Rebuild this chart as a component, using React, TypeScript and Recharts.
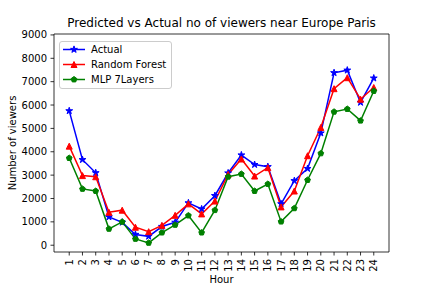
import React from 'react';
import { LineChart, Line, XAxis, YAxis, ReferenceLine } from 'recharts';

const hours = [1, 2, 3, 4, 5, 6, 7, 8, 9, 10, 11, 12, 13, 14, 15, 16, 17, 18, 19, 20, 21, 22, 23, 24];
const actual = [5750, 3660, 3100, 1210, 980, 460, 380, 800, 980, 1810, 1550, 2120, 3090, 3860, 3450, 3360, 1770, 2760, 3280, 4800, 7380, 7490, 6110, 7150];
const randomForest = [4240, 2980, 2930, 1410, 1500, 770, 580, 850, 1280, 1770, 1340, 1890, 3030, 3690, 2960, 3320, 1640, 2320, 3830, 5040, 6700, 7170, 6250, 6750];
const mlp = [3730, 2410, 2320, 700, 1000, 270, 100, 540, 870, 1270, 540, 1500, 2930, 3050, 2320, 2620, 1010, 1580, 2790, 3930, 5710, 5830, 5330, 6600];
const yTicks = [0, 1000, 2000, 3000, 4000, 5000, 6000, 7000, 8000, 9000];

const data = hours.map((h, i) => ({ hour: h, actual: actual[i], rf: randomForest[i], mlp: mlp[i] }));

const FONT = 'DejaVu Sans, sans-serif';
const X_DOMAIN = [-0.15, 25.15];
const Y_DOMAIN = [-290, 9040];

type Shape = 'star' | 'triangle' | 'pentagon';

const SERIES: { key: string; name: string; color: string; shape: Shape }[] = [
  { key: 'actual', name: 'Actual', color: '#0000ff', shape: 'star' },
  { key: 'rf', name: 'Random Forest', color: '#ff0000', shape: 'triangle' },
  { key: 'mlp', name: 'MLP 7Layers', color: '#008000', shape: 'pentagon' },
];

function regularPoints(cx: number, cy: number, n: number, r: number, inner?: number) {
  const pts: string[] = [];
  const count = inner ? n * 2 : n;
  for (let i = 0; i < count; i++) {
    const a = -Math.PI / 2 + (i * Math.PI * 2) / count;
    const rr = inner && i % 2 === 1 ? inner : r;
    pts.push(`${(cx + rr * Math.cos(a)).toFixed(2)},${(cy + rr * Math.sin(a)).toFixed(2)}`);
  }
  return pts.join(' ');
}

function Marker({ cx, cy, shape, color }: { cx: number; cy: number; shape: Shape; color: string }) {
  if (shape === 'star') {
    return <polygon points={regularPoints(cx, cy, 5, 3.6, 3.6 * 0.382)} fill={color} stroke={color} strokeWidth={1} />;
  }
  if (shape === 'triangle') {
    return (
      <polygon
        points={`${cx},${cy - 3} ${cx - 3},${cy + 3} ${cx + 3},${cy + 3}`}
        fill={color}
        stroke={color}
        strokeWidth={1}
      />
    );
  }
  return <polygon points={regularPoints(cx, cy, 5, 3)} fill={color} stroke={color} strokeWidth={1} />;
}

const makeDot = (shape: Shape, color: string) => (props: any) => {
  const { cx, cy, index } = props;
  if (cx == null || cy == null) return <g key={`d-${index}`} />;
  return <g key={`d-${shape}-${index}`}><Marker cx={cx} cy={cy} shape={shape} color={color} /></g>;
};

const HourTick = (props: any) => {
  const { x, y, payload } = props;
  return (
    <text
      x={x}
      y={y}
      transform={`rotate(-90, ${x}, ${y})`}
      textAnchor="end"
      dy="0.35em"
      fontSize={10}
      fontFamily={FONT}
      fill="#000"
    >
      {String(payload.value)}
    </text>
  );
};

const LegendBox = () => (
  <div
    style={{
      position: 'absolute',
      left: 59,
      top: 41,
      width: 111,
      height: 46,
      border: '1px solid #cccccc',
      borderRadius: 3,
      background: 'rgba(255,255,255,0.8)',
      fontFamily: FONT,
      fontSize: 10,
    }}
  >
    {SERIES.map((s, i) => (
      <div key={s.key} style={{ position: 'absolute', left: 0, top: 1 + i * 15, height: 13, width: 111 }}>
        <svg width={28} height={13} style={{ position: 'absolute', left: 0, top: 0 }}>
          <line x1={3} y1={6.5} x2={25} y2={6.5} stroke={s.color} strokeWidth={1.5} />
          <Marker cx={14} cy={6.5} shape={s.shape} color={s.color} />
        </svg>
        <span style={{ position: 'absolute', left: 31, top: 0, lineHeight: '13px', color: '#000', whiteSpace: 'nowrap' }}>
          {s.name}
        </span>
      </div>
    ))}
  </div>
);

export default function App() {
  return (
    <div style={{ position: 'absolute', left: 0, top: 0, width: 432, height: 288, background: '#fff' }}>
      <div
        style={{
          position: 'absolute',
          left: 0,
          top: 16,
          width: 443,
          textAlign: 'center',
          fontFamily: FONT,
          fontSize: 12,
          lineHeight: '14px',
          color: '#000',
        }}
      >
        Predicted vs Actual no of viewers near Europe Paris
      </div>
      <LineChart
        width={432}
        height={288}
        data={data}
        margin={{ top: 34, right: 43, bottom: 0, left: 0 }}
        style={{ position: 'absolute', left: 0, top: 0 }}
      >
        <XAxis
          dataKey="hour"
          type="number"
          domain={X_DOMAIN}
          ticks={hours}
          interval={0}
          allowDataOverflow
          height={36}
          tickSize={3.5}
          tickMargin={3.5}
          tick={<HourTick />}
          stroke="#000"
          strokeWidth={0.8}
          tickLine={{ stroke: '#000', strokeWidth: 0.8 }}
          label={{
            content: (p: any) => {
              const vb = p.viewBox;
              return (
                <text x={vb.x + vb.width / 2} y={283} textAnchor="middle" fontSize={10} fontFamily={FONT} fill="#000">
                  Hour
                </text>
              );
            },
          }}
        />
        <YAxis
          type="number"
          domain={Y_DOMAIN}
          ticks={yTicks}
          interval={0}
          allowDataOverflow
          width={54}
          tickSize={3.5}
          tickMargin={3.5}
          tick={{ fontSize: 10, fontFamily: FONT, fill: '#000' }}
          stroke="#000"
          strokeWidth={0.8}
          tickLine={{ stroke: '#000', strokeWidth: 0.8 }}
          label={{
            content: (p: any) => {
              const vb = p.viewBox;
              const cy = vb.y + vb.height / 2;
              return (
                <text x={16} y={cy} transform={`rotate(-90, 16, ${cy})`} textAnchor="middle" fontSize={10} fontFamily={FONT} fill="#000">
                  Number of viewers
                </text>
              );
            },
          }}
        />
        {/* top and right spines of the axes box */}
        <ReferenceLine y={Y_DOMAIN[1]} stroke="#000" strokeWidth={0.8} ifOverflow="visible" />
        <ReferenceLine x={X_DOMAIN[1]} stroke="#000" strokeWidth={0.8} ifOverflow="visible" />
        {SERIES.map((s) => (
          <Line
            key={s.key}
            dataKey={s.key}
            name={s.name}
            type="linear"
            stroke={s.color}
            strokeWidth={1.5}
            dot={makeDot(s.shape, s.color)}
            activeDot={false}
            isAnimationActive={false}
          />
        ))}
      </LineChart>
      <LegendBox />
    </div>
  );
}
